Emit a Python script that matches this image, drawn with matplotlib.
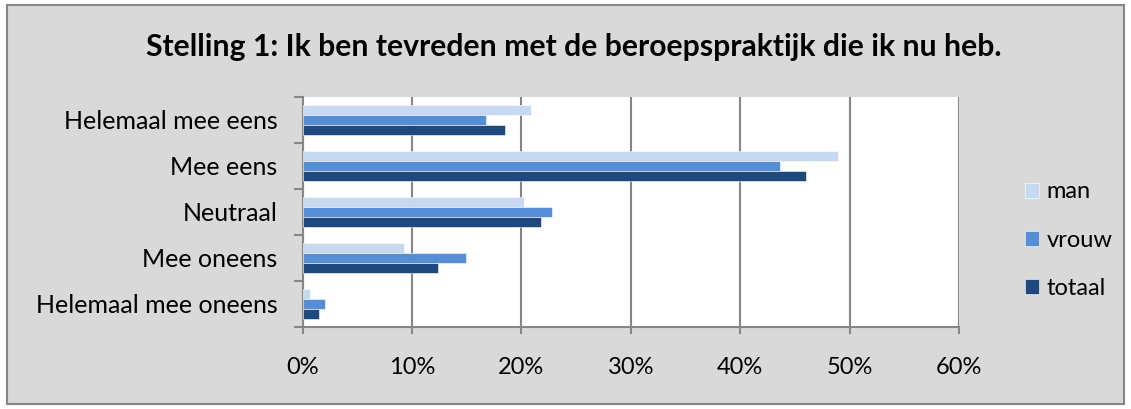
import numpy as np
import matplotlib.pyplot as plt
from matplotlib.patches import Rectangle

# data
categories = ["Helemaal mee eens", "Mee eens", "Neutraal", "Mee oneens", "Helemaal mee oneens"]
series = ["man", "vrouw", "totaal"]
man = [20.9, 48.9, 20.2, 9.3, 0.7]
vrouw = [16.8, 43.6, 22.8, 14.9, 2.0]
totaal = [18.5, 46.0, 21.8, 12.4, 1.5]
xticks = [0, 10, 20, 30, 40, 50, 60]
colors = ["#C6D9F1", "#558ED5", "#1F497D"]

plt.rcParams['font.family'] = ['Lato', 'DejaVu Sans']

fig = plt.figure(figsize=(11.31, 4.09), dpi=100)
fig.patch.set_facecolor("white")
# grey chart area with border
fig.patches.append(Rectangle((7 / 1131, 5 / 409), 1117 / 1131, 399 / 409,
                             transform=fig.transFigure, facecolor="#D9D9D9",
                             edgecolor="#868686", linewidth=1.5, zorder=0))

ax = fig.add_axes([302.7 / 1131, 82.3 / 409, 656.3 / 1131, 229.7 / 409])
ax.set_zorder(2)
ax.set_facecolor("white")

n = len(categories)
centers = np.arange(n)[::-1]
h = 0.22
for k, (vals, lab) in enumerate(zip([man, vrouw, totaal], series)):
    ax.barh(centers + h * (1 - k), vals, height=h, color=colors[k],
            edgecolor="white", linewidth=0.4, label=lab, zorder=3)

ax.set_xlim(0, 60)
ax.set_ylim(-0.5, n - 0.5)
ax.set_xticks(xticks)
ax.set_xticklabels([f"{v}%" for v in xticks], fontsize=17)
ax.set_yticks(np.arange(n + 1) - 0.5)
ax.set_yticklabels([])
ax.set_yticks(centers, minor=True)
ax.set_yticklabels(categories, minor=True, fontsize=18)
ax.tick_params(axis="y", which="minor", length=0, pad=18)
ax.tick_params(axis="y", which="major", length=6.5, width=1.5, color="#868686")
ax.tick_params(axis="x", length=5, width=1.5, color="#868686", pad=17)
ax.grid(axis="x", color="#868686", linewidth=1.5, zorder=1)
for s in ["top", "right"]:
    ax.spines[s].set_visible(False)
for s in ["left", "bottom"]:
    ax.spines[s].set_color("#868686")
    ax.spines[s].set_linewidth(1.5)

fig.text(574 / 1131, 1 - 47 / 409, "Stelling 1: Ik ben tevreden met de beroepspraktijk die ik nu heb.",
         ha="center", va="center", fontsize=21.7, fontweight="bold")

fig.legend(loc="center left", bbox_to_anchor=(1025 / 1131, 1 - 240 / 409),
           frameon=False, fontsize=17, handlelength=0.6, handleheight=0.6,
           handletextpad=0.3, labelspacing=1.15, borderpad=0, borderaxespad=0)

plt.savefig("out.png", dpi=100)
